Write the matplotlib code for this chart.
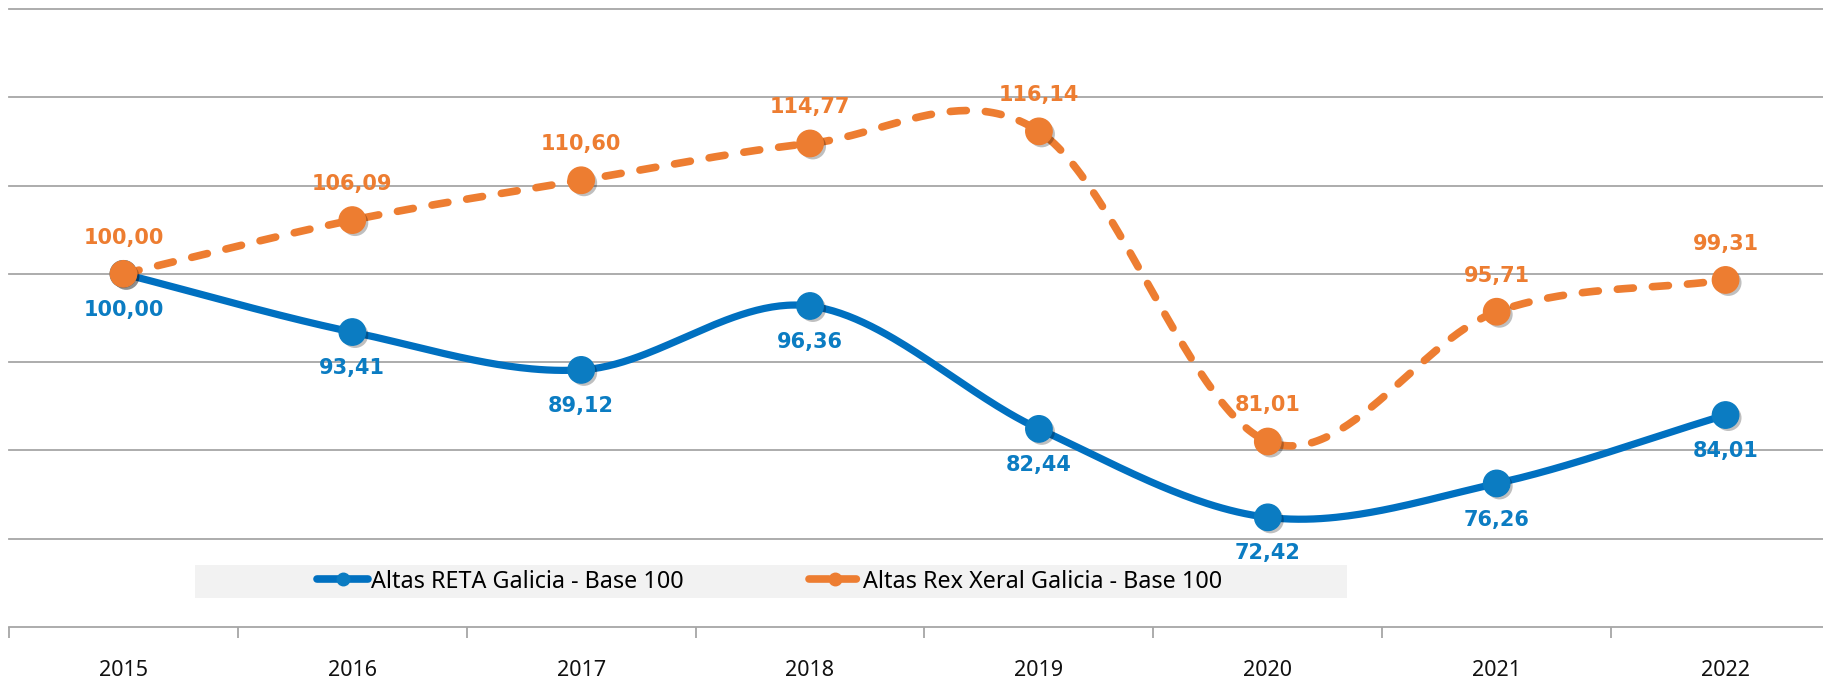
import numpy as np
import matplotlib
matplotlib.use("Agg")
import matplotlib.pyplot as plt
import matplotlib.patheffects as pe
from matplotlib.lines import Line2D
from matplotlib.patches import Rectangle

years = ["2015", "2016", "2017", "2018", "2019", "2020", "2021", "2022"]
reta = [100.00, 93.41, 89.12, 96.36, 82.44, 72.42, 76.26, 84.01]
rex = [100.00, 106.09, 110.60, 114.77, 116.14, 81.01, 95.71, 99.31]
reta_name = "Altas RETA Galicia - Base 100"
rex_name = "Altas Rex Xeral Galicia - Base 100"

BLUE_LINE = "#0070C0"
BLUE_MK = "#0B7CC2"
ORANGE = "#ED7D31"
GRID = "#A6A6A6"


def smooth(vals, n=60):
    y = np.asarray(vals, float)
    x = np.arange(len(y), dtype=float)
    m = np.empty_like(y)
    m[1:-1] = (y[2:] - y[:-2]) / 2.0
    m[0] = (y[1] - y[0])
    m[-1] = (y[-1] - y[-2])
    xs, ys = [], []
    for i in range(len(y) - 1):
        t = np.linspace(0, 1, n, endpoint=(i == len(y) - 2))
        h00 = 2 * t**3 - 3 * t**2 + 1
        h10 = t**3 - 2 * t**2 + t
        h01 = -2 * t**3 + 3 * t**2
        h11 = t**3 - t**2
        xs.append(x[i] + t)
        ys.append(h00 * y[i] + h10 * m[i] + h01 * y[i + 1] + h11 * m[i + 1])
    return np.concatenate(xs), np.concatenate(ys)


fig = plt.figure(figsize=(18.24, 6.82), dpi=100)
ax = fig.add_axes([9 / 1824, 55 / 682, 1831 / 1824, 618 / 682])
ax.set_xlim(-0.5, 7.5)
ax.set_ylim(60, 130)

for v in range(70, 131, 10):
    ax.axhline(v, color=GRID, lw=1.3, zorder=1, clip_on=False)

for s in ["top", "right", "left"]:
    ax.spines[s].set_visible(False)
ax.spines["bottom"].set_color(GRID)
ax.spines["bottom"].set_linewidth(1.3)
ax.set_yticks([])

x = np.arange(len(years))
ax.set_xticks(x)
ax.set_xticklabels(years, fontsize=15.5, family="Noto Sans", color="#111111")
ax.tick_params(axis="x", which="major", length=0, pad=24)
ax.set_xticks(np.arange(-0.5, 7.6, 1), minor=True)
ax.tick_params(axis="x", which="minor", length=8, width=1.3, color=GRID)

shadow = [pe.SimplePatchShadow(offset=(2, -2), shadow_rgbFace="k", alpha=0.25), pe.Normal()]

# Blue series
sx, sy = smooth(reta)
ax.plot(sx, sy, color=BLUE_LINE, lw=5.2, solid_capstyle="round", zorder=3)
ax.plot(x, reta, ls="none", marker="o", ms=19, color=BLUE_MK, mec=BLUE_MK,
        zorder=4, path_effects=shadow)

# Orange series
ox, oy = smooth(rex)
ax.plot(ox, oy, color=ORANGE, lw=5.5, ls=(0, (2.1, 2.5)), dash_capstyle="round", zorder=5)
ax.plot(x, rex, ls="none", marker="o", ms=19, color=ORANGE, mec=ORANGE,
        zorder=6, path_effects=shadow)

fmt = lambda v: f"{v:.2f}".replace(".", ",")
for xi, v in zip(x, reta):
    ax.annotate(fmt(v), (xi, v), xytext=(0, -26), textcoords="offset points",
                ha="center", va="center", fontsize=15, fontweight="bold",
                color=BLUE_MK, family="DejaVu Sans", zorder=7)
for xi, v in zip(x, rex):
    ax.annotate(fmt(v), (xi, v), xytext=(0, 26), textcoords="offset points",
                ha="center", va="center", fontsize=15, fontweight="bold",
                color=ORANGE, family="DejaVu Sans", zorder=7)

# Legend box
fig.patches.append(Rectangle((195 / 1824, 1 - 598 / 682), (1347 - 195) / 1824, 33 / 682,
                             transform=fig.transFigure, facecolor="#F2F2F2",
                             edgecolor="none", zorder=0))
h1 = Line2D([], [], color=BLUE_LINE, lw=5.5, marker="o", ms=9, mfc=BLUE_MK, mec=BLUE_MK,
            solid_capstyle="round")
h2 = Line2D([], [], color=ORANGE, lw=5.5, ls=(0, (2.6, 1.0)), marker="o", ms=9,
            mfc=ORANGE, mec=ORANGE, dash_capstyle="round")
leg = fig.legend([h1, h2], [reta_name, rex_name], loc="center left",
                 bbox_to_anchor=(317 / 1824, 1 - 581.5 / 682), ncol=2, frameon=False,
                 prop={"family": "Noto Sans", "size": 16.8}, handlelength=2.2,
                 handletextpad=0.1, columnspacing=5.4, borderpad=0, borderaxespad=0)

fig.savefig("out.png", dpi=100)
